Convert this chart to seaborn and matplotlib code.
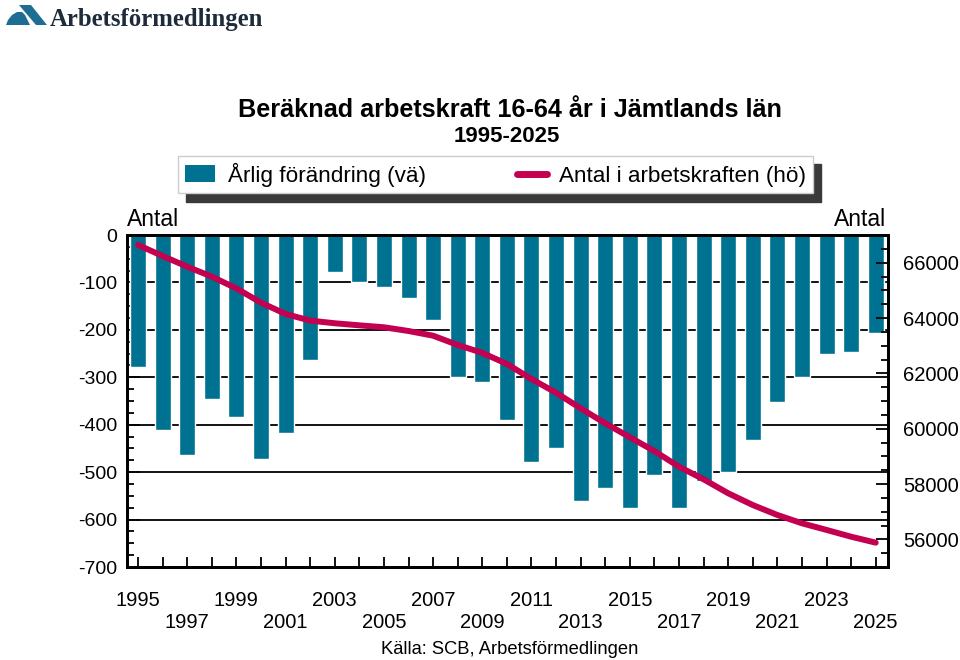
import numpy as np
import pandas as pd
import matplotlib
matplotlib.use('Agg')
import matplotlib.pyplot as plt
import seaborn as sns
from matplotlib.patches import Patch, Polygon
from matplotlib.lines import Line2D
from matplotlib.ticker import MultipleLocator

# data
years = list(range(1995, 2026))
annual_change = [-279, -411, -464, -345, -384, -472, -417, -264, -78, -100,
                 -109, -133, -179, -299, -310, -390, -478, -450, -560, -533,
                 -575, -507, -576, -518, -500, -432, -352, -299, -250, -247,
                 -207]
labour_force = [66640, 66240, 65855, 65495, 65070, 64555, 64145, 63905, 63810, 63735,
                63665, 63530, 63360, 63025, 62740, 62340, 61795, 61300, 60735, 60195,
                59690, 59190, 58625, 58170, 57665, 57240, 56880, 56580, 56340, 56095,
                55880]

title = 'Beräknad arbetskraft 16-64 år i Jämtlands län'
subtitle = '1995-2025'
bar_label = 'Årlig förändring (vä)'
line_label = 'Antal i arbetskraften (hö)'
source = 'Källa: SCB, Arbetsförmedlingen'

bar_color = '#007291'
line_color = '#C40050'

sns.set_style('white')
plt.rcParams['font.family'] = ['Liberation Sans', 'DejaVu Sans']
plt.rcParams['axes.unicode_minus'] = False
plt.rcParams['text.color'] = 'black'
plt.rcParams['xtick.color'] = 'black'
plt.rcParams['ytick.color'] = 'black'
plt.rcParams['axes.labelcolor'] = 'black'

df = pd.DataFrame({'year': [str(y) for y in years],
                   'change': annual_change,
                   'antal': labour_force})
df['pos'] = df.index

W, H = 960, 660
fig = plt.figure(figsize=(W / 100, H / 100), dpi=100)
fig.patch.set_facecolor('white')

x0, x1, y0, y1 = 127, 888, 235, 567
ax = fig.add_axes([x0 / W, 1 - y1 / H, (x1 - x0) / W, (y1 - y0) / H])

sns.barplot(data=df, x='year', y='change', color=bar_color, width=0.65,
            saturation=1, ax=ax, zorder=2)
ax.set_ylim(-700, 0)
ax.set_xlim(-0.45, len(years) - 0.5)
ax.yaxis.set_major_locator(MultipleLocator(100))
ax.yaxis.set_minor_locator(MultipleLocator(25))
ax.grid(axis='y', which='major', color='black', linewidth=1.3, zorder=1)
ax.set_axisbelow(True)
ax.tick_params(axis='y', which='major', direction='in', length=9, width=1.3,
               labelsize=14, pad=7)
ax.tick_params(axis='y', which='minor', direction='in', length=5, width=1.3, left=True)
ax.set_xticks(range(len(years)))
xlabels = []
for y in years:
    if y % 4 == 3:
        xlabels.append(str(y))
    elif y % 4 == 1:
        xlabels.append('\n' + str(y))
    else:
        xlabels.append('')
ax.set_xticklabels(xlabels, linespacing=1.2)
ax.tick_params(axis='x', direction='in', length=7, width=1.3, labelsize=14.5,
               pad=17.5, bottom=True)
ax.set_xlabel('')
ax.set_ylabel('')
for s in ax.spines.values():
    s.set_linewidth(2)
    s.set_color('black')

ax2 = ax.twinx()
sns.lineplot(data=df, x='pos', y='antal', color=line_color, linewidth=4.3,
             ax=ax2, solid_capstyle='round', zorder=3)
ax2.set_ylim(55000, 67000)
ax2.set_xlim(ax.get_xlim())
ax2.yaxis.set_major_locator(MultipleLocator(2000))
ax2.yaxis.set_minor_locator(MultipleLocator(500))
ax2.tick_params(axis='y', which='major', direction='in', length=9, width=1.3,
                labelsize=14.5, pad=11, right=True)
ax2.tick_params(axis='y', which='minor', direction='in', length=5, width=1.3, right=True)
ax2.set_ylabel('')
ax2.set_xlabel('')
for s in ax2.spines.values():
    s.set_linewidth(2)
    s.set_color('black')

# axis unit labels
fig.text(153 / W, 1 - 219 / H, 'Antal', ha='center', va='center', fontsize=16.5)
fig.text(860 / W, 1 - 219 / H, 'Antal', ha='center', va='center', fontsize=16.5)

# titles and source
fig.text(510 / W, 1 - 110 / H, title, ha='center', va='center',
         fontsize=18.2, fontweight='bold')
fig.text(507 / W, 1 - 137 / H, subtitle, ha='center', va='center',
         fontsize=16, fontweight='bold')
fig.text(510 / W, 1 - 650 / H, source, ha='center', va='center', fontsize=13.2)

# legend
handles = [Patch(facecolor=bar_color, edgecolor='none'),
           Line2D([0], [0], color=line_color, linewidth=5, solid_capstyle='round')]
leg = fig.legend(handles, [bar_label, line_label], ncol=2, mode='expand',
                 loc='center', bbox_to_anchor=(178 / W, 1 - 192 / H, 635 / W, 35 / H),
                 bbox_transform=fig.transFigure, borderaxespad=0, fontsize=16.2,
                 handlelength=1.35, handleheight=0.75, handletextpad=0.55,
                 frameon=True, fancybox=False, edgecolor='#cccccc',
                 shadow={'ox': 6, 'oy': -6, 'color': '#3a3a3a', 'alpha': 1},
                 borderpad=0.3)
leg.get_frame().set_linewidth(1)

# logo
lax = fig.add_axes([0, 1 - 36 / H, 280 / W, 36 / H])
lax.set_xlim(0, 280)
lax.set_ylim(36, 0)
lax.axis('off')
lax.add_patch(Polygon([(6, 25), (8, 20), (12, 15), (17, 12), (22, 12), (25, 15), (30, 25)],
                      closed=True, facecolor='#1e6e93', edgecolor='none'))
lax.add_patch(Polygon([(19, 5), (31, 5), (47, 25), (36, 25)],
                      closed=True, facecolor='#1e6e93', edgecolor='none'))
lax.text(50, 26, 'Arbetsförmedlingen', fontsize=17.8, fontweight='bold',
         family=['Liberation Serif', 'DejaVu Serif'], color='#1d2b3a',
         ha='left', va='baseline')

fig.savefig('out.png', dpi=100, facecolor='white')
